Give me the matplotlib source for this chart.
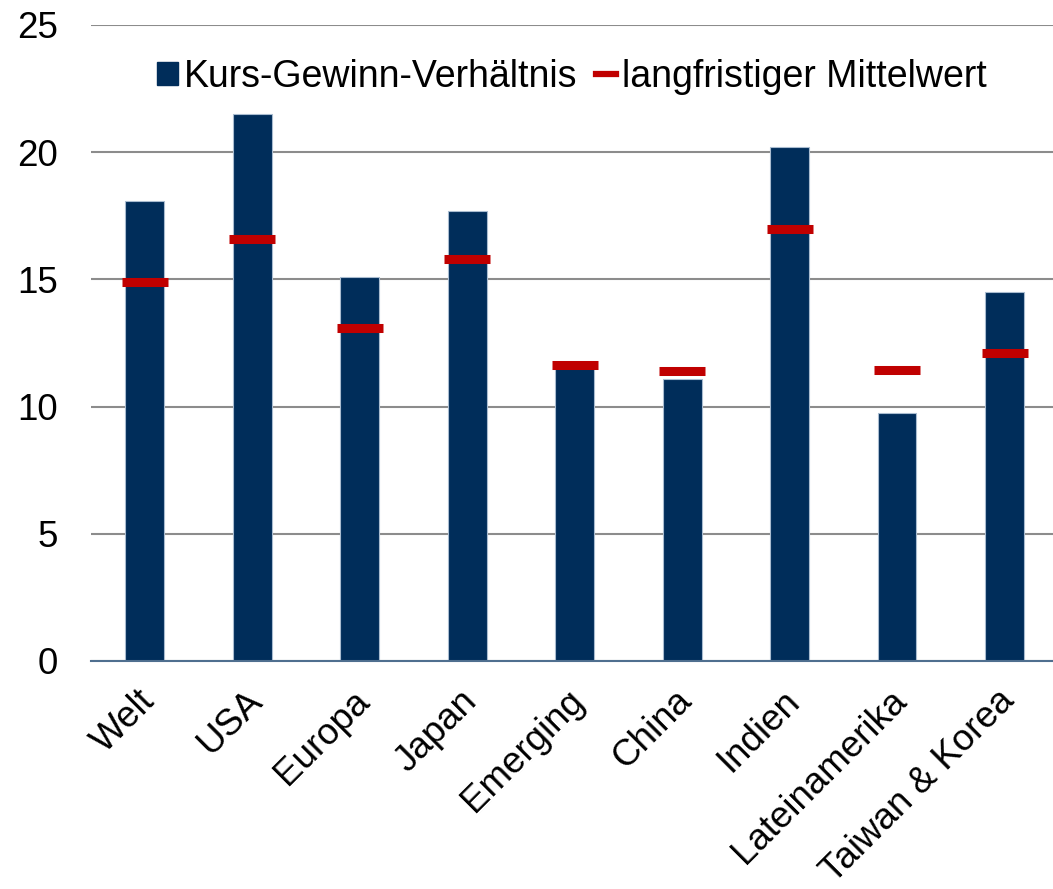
import matplotlib
matplotlib.use('Agg')
import matplotlib.pyplot as plt
import matplotlib.transforms as mtransforms
from matplotlib.lines import Line2D
from matplotlib.patches import Patch

plt.rcParams['font.family'] = ['Liberation Sans', 'DejaVu Sans']

categories = ['Welt', 'USA', 'Europa', 'Japan', 'Emerging', 'China', 'Indien',
              'Lateinamerika', 'Taiwan & Korea']
kgv = [18.1, 21.5, 15.1, 17.7, 11.6, 11.1, 20.2, 9.75, 14.5]
mittelwert = [14.9, 16.6, 13.1, 15.8, 11.65, 11.4, 17.0, 11.45, 12.1]

navy = '#002D5A'
red = '#C00000'

fig = plt.figure(figsize=(10.53, 8.89), dpi=100)
ax = fig.add_axes([91 / 1053, 228 / 889, 962 / 1053, 636 / 889])

x = range(len(categories))
ax.bar(x, kgv, width=0.36, color=navy, edgecolor='#A9BCD0', linewidth=0.8, zorder=2)
ax.scatter(x, mittelwert, marker='_', s=1100, linewidths=6.5, color=red, zorder=3)

ax.set_xlim(-0.5, 8.45)
ax.set_ylim(0, 25)
ax.set_yticks([0, 5, 10, 15, 20, 25])
ax.yaxis.grid(True, color='#8C8C8C', linewidth=1.5, zorder=0)
ax.set_axisbelow(True)
for s in ['top', 'right', 'left']:
    ax.spines[s].set_visible(False)
ax.spines['bottom'].set_color('#4F6F8F')
ax.spines['bottom'].set_linewidth(1.5)
ax.spines['bottom'].set_zorder(4)
ax.tick_params(axis='both', length=0, labelsize=26.5, colors='black')
ax.tick_params(axis='y', pad=24)
ax.set_xticks(list(x))
ax.set_xticklabels(categories, rotation=45, ha='right', rotation_mode='anchor')
ax.tick_params(axis='x', pad=16)
shift = mtransforms.ScaledTranslation(-8 / 100, 0, fig.dpi_scale_trans)
for lbl in ax.get_xticklabels():
    lbl.set_transform(lbl.get_transform() + shift)

handles = [Patch(facecolor=navy, edgecolor=navy),
           Line2D([0], [0], color=red, linewidth=4.5)]
ax.legend(handles, ['Kurs-Gewinn-Verhältnis', 'langfristiger Mittelwert'],
          loc='upper center', bbox_to_anchor=(0.5, 1.0), ncol=2, frameon=False,
          fontsize=27, handlelength=0.55, handleheight=0.55, handletextpad=0.15,
          columnspacing=0.5)

plt.savefig('out.png', dpi=100)
